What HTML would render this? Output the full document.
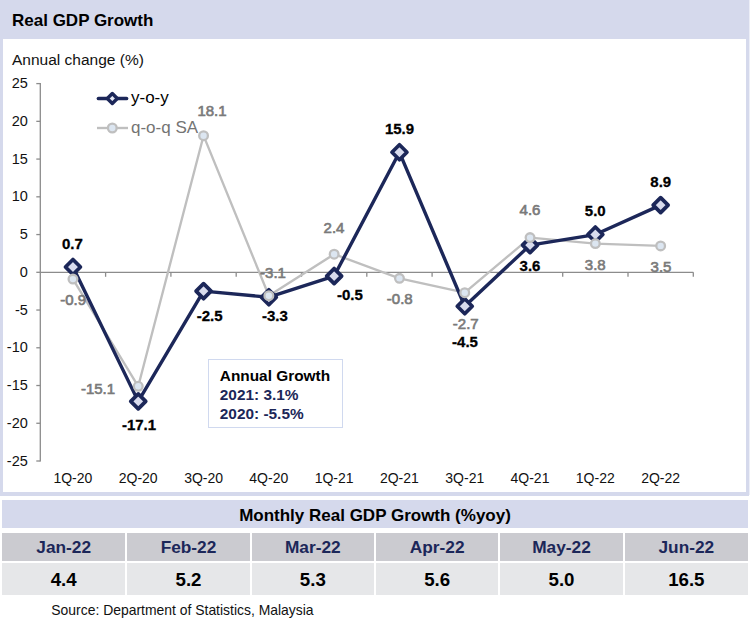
<!DOCTYPE html>
<html><head><meta charset="utf-8"><title>Real GDP Growth</title>
<style>
html,body{margin:0;padding:0;background:#fff;}
body{width:750px;height:622px;position:relative;overflow:hidden;font-family:"Liberation Sans",sans-serif;color:#000;}
.frame{position:absolute;left:0;top:0;width:749px;height:495.5px;background:#d5d9ec;}
.edge{position:absolute;left:749px;top:0;width:1px;height:495px;background:#eceef7;}
.inner{position:absolute;left:3px;top:38.5px;width:743px;height:453.5px;background:#fff;}
.title{position:absolute;left:12px;top:11px;font-weight:bold;font-size:17px;line-height:20px;white-space:nowrap;}
.sub{position:absolute;left:12px;top:51.2px;font-size:15.5px;line-height:18px;white-space:nowrap;color:#111;}
.dl{position:absolute;width:60px;text-align:center;font-size:15px;line-height:17px;font-weight:bold;white-space:nowrap;-webkit-text-stroke:0.3px;transform:scaleY(0.98);transform-origin:50% 14.2px;}
.dl.q{color:#7a7a7a;font-weight:normal;font-size:15px;-webkit-text-stroke:0.65px #7a7a7a;transform:none;margin-top:0.4px;}
.yl{position:absolute;left:0;width:27.8px;text-align:right;font-size:14.5px;line-height:17px;color:#111;}
.xl{position:absolute;top:469.5px;width:60px;text-align:center;font-size:14px;line-height:17px;color:#111;white-space:nowrap;}
.leg{position:absolute;left:131px;font-size:17px;line-height:20px;white-space:nowrap;}
.box{position:absolute;box-sizing:border-box;left:207.6px;top:359.2px;width:135.8px;height:68.6px;border:1.8px solid #d0d9ef;background:#fff;}
.bt{position:absolute;left:219.8px;font-weight:bold;font-size:15.4px;line-height:18px;white-space:nowrap;}
.tt{position:absolute;left:2px;top:500px;width:746px;height:28px;background:#d5d9ec;text-align:center;font-weight:bold;font-size:17px;line-height:32px;}
.th{position:absolute;top:533px;height:28px;background:#cbcbd0;color:#1c2759;text-align:center;font-weight:bold;font-size:17.3px;line-height:29px;}
.td{position:absolute;top:562.7px;height:32px;background:#e6e7e9;text-align:center;font-weight:bold;font-size:18.7px;line-height:34.6px;}
.src{position:absolute;left:51.3px;top:602px;font-size:13.93px;line-height:17px;white-space:nowrap;color:#111;}
</style></head><body>
<div class="edge"></div><div class="frame"></div><div class="inner"></div>
<div class="title">Real GDP Growth</div>
<div class="sub">Annual change (%)</div>
<svg width="750" height="500" viewBox="0 0 750 500" style="position:absolute;left:0;top:0">
<g stroke="#8c8c8c" stroke-width="1.3" fill="none">
<line x1="40.3" y1="83.10000000000002" x2="40.3" y2="461.5"/>
<line x1="36.3" y1="461.00" x2="40.3" y2="461.00"/>
<line x1="36.3" y1="423.26" x2="40.3" y2="423.26"/>
<line x1="36.3" y1="385.52" x2="40.3" y2="385.52"/>
<line x1="36.3" y1="347.78" x2="40.3" y2="347.78"/>
<line x1="36.3" y1="310.04" x2="40.3" y2="310.04"/>
<line x1="36.3" y1="272.30" x2="40.3" y2="272.30"/>
<line x1="36.3" y1="234.56" x2="40.3" y2="234.56"/>
<line x1="36.3" y1="196.82" x2="40.3" y2="196.82"/>
<line x1="36.3" y1="159.08" x2="40.3" y2="159.08"/>
<line x1="36.3" y1="121.34" x2="40.3" y2="121.34"/>
<line x1="36.3" y1="83.60" x2="40.3" y2="83.60"/>
<line x1="40.3" y1="272.3" x2="693.3" y2="272.3"/>
<line x1="105.60" y1="272.3" x2="105.60" y2="276.8"/>
<line x1="170.90" y1="272.3" x2="170.90" y2="276.8"/>
<line x1="236.20" y1="272.3" x2="236.20" y2="276.8"/>
<line x1="301.50" y1="272.3" x2="301.50" y2="276.8"/>
<line x1="366.80" y1="272.3" x2="366.80" y2="276.8"/>
<line x1="432.10" y1="272.3" x2="432.10" y2="276.8"/>
<line x1="497.40" y1="272.3" x2="497.40" y2="276.8"/>
<line x1="562.70" y1="272.3" x2="562.70" y2="276.8"/>
<line x1="628.00" y1="272.3" x2="628.00" y2="276.8"/>
<line x1="693.30" y1="272.3" x2="693.30" y2="276.8"/>
</g>
<polyline points="72.95,279.09 138.25,386.27 203.55,135.68 268.85,295.70 334.15,254.18 399.45,278.34 464.75,292.68 530.05,237.58 595.35,243.62 660.65,245.88" fill="none" stroke="#bfbfbf" stroke-width="2.35" stroke-linejoin="round"/>
<polyline points="72.95,267.02 138.25,401.37 203.55,291.17 268.85,297.21 334.15,276.07 399.45,152.29 464.75,306.27 530.05,245.13 595.35,234.56 660.65,205.12" fill="none" stroke="#1c2759" stroke-width="3.4" stroke-linejoin="round"/>
<path d="M72.95 259.52 L80.45 267.02 L72.95 274.52 L65.45 267.02 Z" fill="#d9dcee" stroke="#1c2759" stroke-width="3.7" stroke-linejoin="round"/>
<path d="M138.25 393.87 L145.75 401.37 L138.25 408.87 L130.75 401.37 Z" fill="#d9dcee" stroke="#1c2759" stroke-width="3.7" stroke-linejoin="round"/>
<path d="M203.55 283.67 L211.05 291.17 L203.55 298.67 L196.05 291.17 Z" fill="#d9dcee" stroke="#1c2759" stroke-width="3.7" stroke-linejoin="round"/>
<path d="M268.85 289.71 L276.35 297.21 L268.85 304.71 L261.35 297.21 Z" fill="#d9dcee" stroke="#1c2759" stroke-width="3.7" stroke-linejoin="round"/>
<path d="M334.15 268.57 L341.65 276.07 L334.15 283.57 L326.65 276.07 Z" fill="#d9dcee" stroke="#1c2759" stroke-width="3.7" stroke-linejoin="round"/>
<path d="M399.45 144.79 L406.95 152.29 L399.45 159.79 L391.95 152.29 Z" fill="#d9dcee" stroke="#1c2759" stroke-width="3.7" stroke-linejoin="round"/>
<path d="M464.75 298.77 L472.25 306.27 L464.75 313.77 L457.25 306.27 Z" fill="#d9dcee" stroke="#1c2759" stroke-width="3.7" stroke-linejoin="round"/>
<path d="M530.05 237.63 L537.55 245.13 L530.05 252.63 L522.55 245.13 Z" fill="#d9dcee" stroke="#1c2759" stroke-width="3.7" stroke-linejoin="round"/>
<path d="M595.35 227.06 L602.85 234.56 L595.35 242.06 L587.85 234.56 Z" fill="#d9dcee" stroke="#1c2759" stroke-width="3.7" stroke-linejoin="round"/>
<path d="M660.65 197.62 L668.15 205.12 L660.65 212.62 L653.15 205.12 Z" fill="#d9dcee" stroke="#1c2759" stroke-width="3.7" stroke-linejoin="round"/>
<circle cx="72.95" cy="279.09" r="4.35" fill="#dce6f1" stroke="#bfbfbf" stroke-width="2.3"/>
<circle cx="138.25" cy="386.27" r="4.35" fill="#dce6f1" stroke="#bfbfbf" stroke-width="2.3"/>
<circle cx="203.55" cy="135.68" r="4.35" fill="#dce6f1" stroke="#bfbfbf" stroke-width="2.3"/>
<circle cx="268.85" cy="295.70" r="4.35" fill="#dce6f1" stroke="#bfbfbf" stroke-width="2.3"/>
<circle cx="334.15" cy="254.18" r="4.35" fill="#dce6f1" stroke="#bfbfbf" stroke-width="2.3"/>
<circle cx="399.45" cy="278.34" r="4.35" fill="#dce6f1" stroke="#bfbfbf" stroke-width="2.3"/>
<circle cx="464.75" cy="292.68" r="4.35" fill="#dce6f1" stroke="#bfbfbf" stroke-width="2.3"/>
<circle cx="530.05" cy="237.58" r="4.35" fill="#dce6f1" stroke="#bfbfbf" stroke-width="2.3"/>
<circle cx="595.35" cy="243.62" r="4.35" fill="#dce6f1" stroke="#bfbfbf" stroke-width="2.3"/>
<circle cx="660.65" cy="245.88" r="4.35" fill="#dce6f1" stroke="#bfbfbf" stroke-width="2.3"/>
<line x1="98.5" y1="98.5" x2="126.5" y2="98.5" stroke="#1c2759" stroke-width="3.7" stroke-linecap="round"/>
<path d="M112.3 93.5 L117.3 98.5 L112.3 103.5 L107.3 98.5 Z" fill="#e4e7f3" stroke="#1c2759" stroke-width="3.4" stroke-linejoin="round"/>
<line x1="97" y1="128" x2="128" y2="128" stroke="#bfbfbf" stroke-width="2.4"/>
<circle cx="112.30" cy="128.00" r="4.35" fill="#dce6f1" stroke="#bfbfbf" stroke-width="2.3"/>
</svg>
<div class="leg" style="top:88px">y-o-y</div>
<div class="leg" style="top:117.5px;color:#747474">q-o-q SA</div>
<div class="box"></div>
<div class="bt" style="top:367px">Annual Growth</div>
<div class="bt" style="top:385.8px;color:#1c2759">2021: 3.1%</div>
<div class="bt" style="top:404.5px;color:#1c2759">2020: -5.5%</div>
<div class="dl q" style="left:43.2px;top:290.9px">-0.9</div>
<div class="dl q" style="left:68.0px;top:380.0px">-15.1</div>
<div class="dl q" style="left:182.0px;top:102.0px">18.1</div>
<div class="dl q" style="left:243.0px;top:263.8px">-3.1</div>
<div class="dl q" style="left:304.0px;top:218.8px">2.4</div>
<div class="dl q" style="left:369.8px;top:289.6px">-0.8</div>
<div class="dl q" style="left:435.8px;top:315.0px">-2.7</div>
<div class="dl q" style="left:500.0px;top:200.4px">4.6</div>
<div class="dl q" style="left:565.3px;top:255.3px">3.8</div>
<div class="dl q" style="left:631.0px;top:257.3px">3.5</div>
<div class="dl y" style="left:42.4px;top:235.0px">0.7</div>
<div class="dl y" style="left:109.0px;top:415.8px">-17.1</div>
<div class="dl y" style="left:179.7px;top:306.8px">-2.5</div>
<div class="dl y" style="left:244.9px;top:307.3px">-3.3</div>
<div class="dl y" style="left:319.9px;top:285.7px">-0.5</div>
<div class="dl y" style="left:369.5px;top:120.3px">15.9</div>
<div class="dl y" style="left:435.0px;top:333.0px">-4.5</div>
<div class="dl y" style="left:500.0px;top:257.0px">3.6</div>
<div class="dl y" style="left:565.3px;top:201.6px">5.0</div>
<div class="dl y" style="left:630.8px;top:173.1px">8.9</div>
<div class="yl" style="top:452.5px">-25</div>
<div class="yl" style="top:414.8px">-20</div>
<div class="yl" style="top:377.0px">-15</div>
<div class="yl" style="top:339.3px">-10</div>
<div class="yl" style="top:301.5px">-5</div>
<div class="yl" style="top:263.8px">0</div>
<div class="yl" style="top:226.1px">5</div>
<div class="yl" style="top:188.3px">10</div>
<div class="yl" style="top:150.6px">15</div>
<div class="yl" style="top:112.8px">20</div>
<div class="yl" style="top:75.1px">25</div>
<div class="xl" style="left:42.9px">1Q-20</div>
<div class="xl" style="left:108.2px">2Q-20</div>
<div class="xl" style="left:173.6px">3Q-20</div>
<div class="xl" style="left:238.8px">4Q-20</div>
<div class="xl" style="left:304.1px">1Q-21</div>
<div class="xl" style="left:369.4px">2Q-21</div>
<div class="xl" style="left:434.8px">3Q-21</div>
<div class="xl" style="left:500.0px">4Q-21</div>
<div class="xl" style="left:565.3px">1Q-22</div>
<div class="xl" style="left:630.6px">2Q-22</div>
<div class="tt">Monthly Real GDP Growth (%yoy)</div>
<div class="th" style="left:2.00px;width:123.33px">Jan-22</div>
<div class="td" style="left:2.00px;width:123.33px">4.4</div>
<div class="th" style="left:127.33px;width:122.34px">Feb-22</div>
<div class="td" style="left:127.33px;width:122.34px">5.2</div>
<div class="th" style="left:251.67px;width:122.33px">Mar-22</div>
<div class="td" style="left:251.67px;width:122.33px">5.3</div>
<div class="th" style="left:376.00px;width:122.33px">Apr-22</div>
<div class="td" style="left:376.00px;width:122.33px">5.6</div>
<div class="th" style="left:500.33px;width:122.34px">May-22</div>
<div class="td" style="left:500.33px;width:122.34px">5.0</div>
<div class="th" style="left:624.67px;width:123.33px">Jun-22</div>
<div class="td" style="left:624.67px;width:123.33px">16.5</div>
<div class="src">Source: Department of Statistics, Malaysia</div>
</body></html>
